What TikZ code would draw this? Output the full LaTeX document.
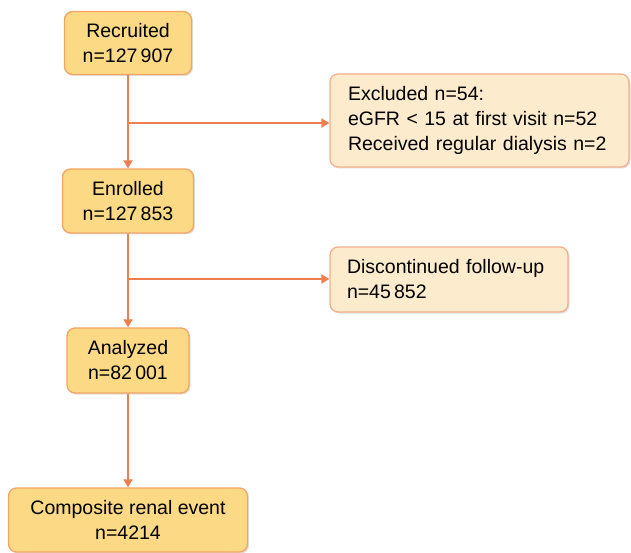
\documentclass[tikz,border=0pt]{standalone}
\usepackage{fontspec}
\setmainfont{Liberation Sans}
\usetikzlibrary{arrows.meta,shadows}
\definecolor{mainfill}{HTML}{FCD985}
\definecolor{mainborder}{HTML}{F2A565}
\definecolor{sidefill}{HTML}{FDEBCD}
\definecolor{sideborder}{HTML}{F4B08C}
\definecolor{arrowcol}{HTML}{EE7E4E}
\tikzset{
  mainbox/.style={draw=mainborder, fill=mainfill, line width=1.3pt, rounded corners=8pt,
    drop shadow={shadow xshift=1.5pt, shadow yshift=-1.5pt, opacity=0.25},
    align=center, inner sep=0pt, font=\fontsize{19.5}{25}\selectfont},
  sidebox/.style={draw=sideborder, fill=sidefill, line width=1.3pt, rounded corners=8pt,
    drop shadow={shadow xshift=1.5pt, shadow yshift=-1.5pt, opacity=0.25},
    align=left, inner sep=0pt, font=\fontsize{19.5}{25}\selectfont},
  conn/.style={draw=arrowcol, line width=2pt},
  arr/.style={conn, -{Triangle[length=8pt,width=9pt]}},
}
\begin{document}
\begin{tikzpicture}[x=1pt,y=-1pt]
\useasboundingbox (0,0) rectangle (631,553);
\node[mainbox, minimum width=127pt, minimum height=63pt] (rec) at (128,43) {Recruited\\n=127\,907};
\node[mainbox, minimum width=131pt, minimum height=64pt] (enr) at (128,201) {Enrolled\\n=127\,853};
\node[mainbox, minimum width=122pt, minimum height=65pt] (ana) at (128,360.5) {Analyzed\\n=82\,001};
\node[mainbox, minimum width=239pt, minimum height=64pt] (com) at (128,520) {Composite renal event\\n=4214};
\node[sidebox, minimum width=299pt, minimum height=93pt, text width=263pt] (exc) at (479.5,120.5) {Excluded n=54:\\eGFR <~15 at first visit n=52\\Received regular dialysis~n=2};
\node[sidebox, minimum width=238pt, minimum height=65pt, text width=204pt] (dis) at (449,279.5) {Discontinued~follow-up\\n=45\,852};
\coordinate (b1) at (128,123);
\coordinate (b2) at (128,279);
\draw[arr] (rec.south) -- (enr.north);
\draw[arr] (enr.south) -- (ana.north);
\draw[arr] (ana.south) -- (com.north);
\draw[arr] (b1) -- (exc.west |- b1);
\draw[arr] (b2) -- (dis.west |- b2);
\end{tikzpicture}
\end{document}
